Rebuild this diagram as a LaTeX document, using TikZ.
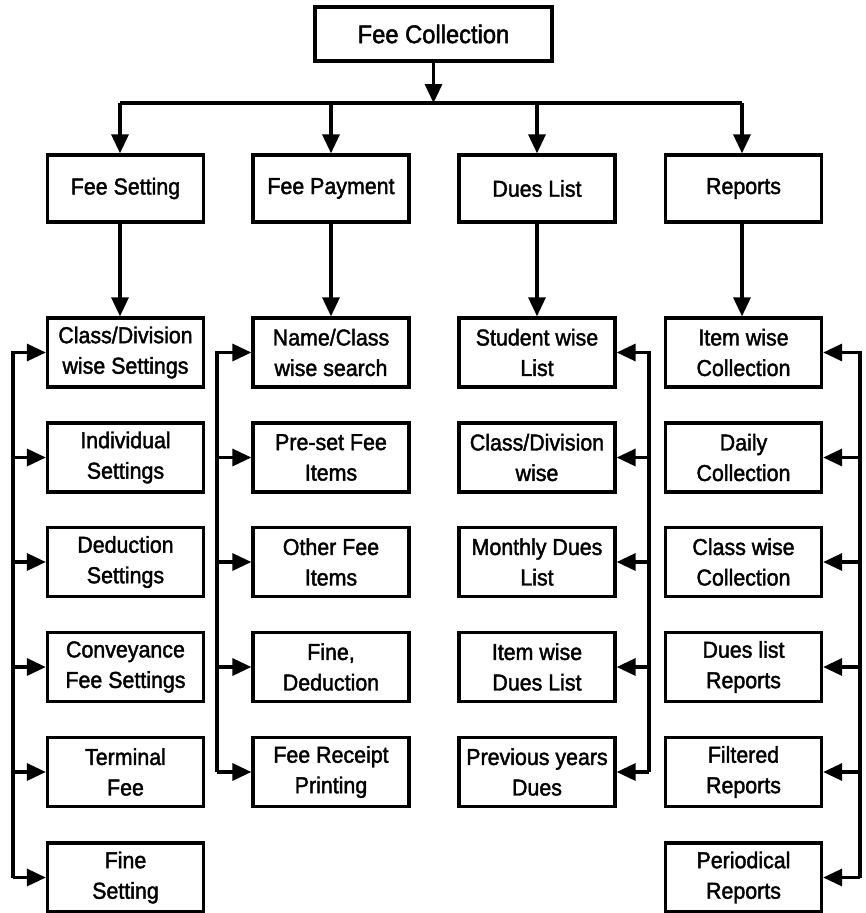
\documentclass[tikz,border=0pt]{standalone}
\usepackage{fontspec}
\setmainfont[FakeBold=1.8,FakeStretch=0.93]{Liberation Sans}
\usetikzlibrary{arrows.meta}
\tikzset{
  box/.style={draw=black, line width=3.3pt, rectangle, align=center, inner sep=0pt,
    minimum width=156pt, minimum height=69pt, font=\fontsize{23}{30.5}\selectfont},
  headbox/.style={box, minimum height=67pt},
  topbox/.style={box, minimum width=237pt, minimum height=54pt, font=\fontsize{25.5}{30}\selectfont},
  conn/.style={draw=black, line width=3.3pt},
  arr/.style={conn, -{Triangle[length=19pt,width=17pt]}},
}
\begin{document}
\begin{tikzpicture}[x=1pt,y=-1pt]
\useasboundingbox (0,0) rectangle (865,913);
\fill[white] (0,0) rectangle (865,913);
% top
\node[topbox] (top) at (433.5,34) {Fee Collection};
\coordinate (hl) at (120,103);
\coordinate (hr) at (742,103);
% level 2
\node[headbox] (fs) at (125.5,188.5) {Fee Setting};
\node[headbox] (fp) at (331,188.5) {Fee Payment};
\node[headbox] (dl) at (537,188.5) {Dues List};
\node[headbox] (rp) at (743.5,188.5) {Reports};
% column 1
\node[box] (a1) at (125.5,352.5) {Class/Division\\wise Settings};
\node[box] (a2) at (125.5,457.5) {Individual\\Settings};
\node[box] (a3) at (125.5,562) {Deduction\\Settings};
\node[box] (a4) at (125.5,667) {Conveyance\\Fee Settings};
\node[box] (a5) at (125.5,772) {Terminal\\Fee};
\node[box] (a6) at (125.5,877.5) {Fine\\Setting};
% column 2
\node[box] (b1) at (331,352.5) {Name/Class\\wise search};
\node[box] (b2) at (331,457.5) {Pre-set Fee\\Items};
\node[box] (b3) at (331,562) {Other Fee\\Items};
\node[box] (b4) at (331,667) {Fine,\\Deduction};
\node[box] (b5) at (331,772) {Fee Receipt\\Printing};
% column 3
\node[box] (c1) at (537,352.5) {Student wise\\List};
\node[box] (c2) at (537,457.5) {Class/Division\\wise};
\node[box] (c3) at (537,562) {Monthly Dues\\List};
\node[box] (c4) at (537,667) {Item wise\\Dues List};
\node[box] (c5) at (537,772) {Previous years\\Dues};
% column 4
\node[box] (d1) at (743.5,352.5) {Item wise\\Collection};
\node[box] (d2) at (743.5,457.5) {Daily\\Collection};
\node[box] (d3) at (743.5,562) {Class wise\\Collection};
\node[box] (d4) at (743.5,667) {Dues list\\Reports};
\node[box] (d5) at (743.5,772) {Filtered\\Reports};
\node[box] (d6) at (743.5,877.5) {Periodical\\Reports};
% bus x positions
\coordinate (bx1) at (13,0);
\coordinate (bx2) at (217,0);
\coordinate (bx3) at (649,0);
\coordinate (bx4) at (860,0);
% top connectors
\draw[arr] (top.south) -- (top.south |- hl);
\draw[conn] (hl) -- (hr);
\draw[arr] (hl) -- ([xshift=-5.5pt]fs.north);
\draw[arr] (fp.north |- hl) -- (fp.north);
\draw[arr] (dl.north |- hl) -- (dl.north);
\draw[arr] (hr) -- ([xshift=-1.5pt]rp.north);
\draw[arr] ([xshift=-5.5pt]fs.south) -- ([xshift=-5.5pt]a1.north);
\draw[arr] (fp.south) -- (b1.north);
\draw[arr] (dl.south) -- (c1.north);
\draw[arr] ([xshift=-1.5pt]rp.south) -- ([xshift=-1.5pt]d1.north);
% column 1 bus
\draw[arr] (bx1 |- a6.west) -- (bx1 |- a1.west) -- (a1.west);
\foreach \n in {a2,a3,a4,a5,a6} \draw[arr] (bx1 |- \n.west) -- (\n.west);
% column 2 bus
\draw[arr] (bx2 |- b5.west) -- (bx2 |- b1.west) -- (b1.west);
\foreach \n in {b2,b3,b4,b5} \draw[arr] (bx2 |- \n.west) -- (\n.west);
% column 3 bus
\draw[arr] (bx3 |- c5.east) -- (bx3 |- c1.east) -- (c1.east);
\foreach \n in {c2,c3,c4,c5} \draw[arr] (bx3 |- \n.east) -- (\n.east);
% column 4 bus
\draw[arr] (bx4 |- d6.east) -- (bx4 |- d1.east) -- (d1.east);
\foreach \n in {d2,d3,d4,d5,d6} \draw[arr] (bx4 |- \n.east) -- (\n.east);
\end{tikzpicture}
\end{document}
